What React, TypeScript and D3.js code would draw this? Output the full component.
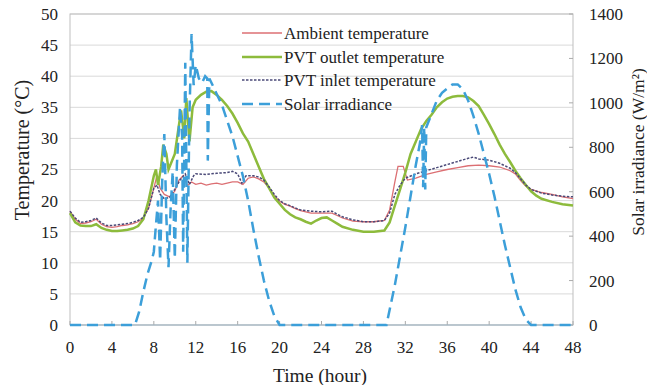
import React from "react";
import * as d3 from "d3";

const ambientTime = [0,0.5,1,1.5,2,2.5,3,3.5,4,4.5,5,5.5,6,6.5,7,7.5,8,8.3,8.6,9,9.5,10,10.4,10.8,11.2,11.6,12,12.5,13,13.5,14,14.5,15,15.5,16,16.5,17,17.5,18,18.5,19,19.5,20,20.5,21,21.5,22,22.5,23,24,25,25.5,26,27,28,29,30,30.5,31,31.3,31.8,32.2,33,34,35,36,37,38,39,40,41,42,42.5,43,43.5,44,45,46,47,48];
const ambientTemp = [18.3,17.0,16.3,16.4,16.6,17.0,16.2,15.8,15.7,15.8,16.0,16.1,16.3,16.6,17.2,18.8,22.0,24.0,22.0,21.0,20.6,21.5,23.3,24.0,22.4,23.0,22.6,22.8,22.5,22.7,22.8,22.6,22.8,23.0,23.0,22.6,23.6,23.8,23.5,23.0,22.0,20.8,19.9,19.4,19.1,18.7,18.4,18.2,18.0,18.0,18.0,17.6,17.2,16.7,16.6,16.6,16.8,18.5,23.0,25.5,25.5,23.3,23.6,24.2,24.6,25.0,25.3,25.6,25.7,25.6,25.4,24.8,24.3,23.2,22.3,21.8,21.3,21.0,20.6,20.3];

const outletTime = [0,0.5,1,1.5,2,2.5,3,3.5,4,4.5,5,5.5,6,6.5,7,7.5,8,8.2,8.4,8.7,8.9,9.2,9.4,10,10.3,10.6,10.9,11.1,11.4,11.7,12,12.5,13,13.5,14,14.5,15,15.5,16,16.5,17,17.5,18,18.5,19,19.5,20,20.5,21,21.5,22,22.5,23,23.5,24,24.5,25,25.5,26,27,28,29,30,30.5,31,31.5,32,32.5,33,33.5,34,34.5,35,35.5,36,36.5,37,37.5,38,38.5,39,39.5,40,40.5,41,41.5,42,42.5,43,43.5,44,44.5,45,46,47,48];
const outletTemp = [18.0,16.5,16.0,15.9,15.9,16.2,15.6,15.3,15.1,15.1,15.2,15.3,15.5,15.9,17.0,20.0,24.0,25.0,22.5,25.5,29.0,27.5,25.0,27.5,31.0,34.5,30.0,36.5,29.5,35.0,36.2,37.0,37.5,37.6,37.0,36.2,35.2,34.0,32.5,30.8,29.5,27.5,25.5,23.5,22.0,20.5,19.5,18.5,17.8,17.3,17.0,16.6,16.3,16.8,17.2,17.3,16.8,16.3,15.8,15.3,15.0,15.0,15.2,16.5,19.2,21.8,24.5,27.5,29.5,31.5,32.8,33.8,35.0,35.8,36.4,36.7,36.8,36.8,36.6,36.0,35.2,33.8,32.3,30.7,29.0,27.5,26.2,24.8,23.6,22.5,21.5,20.8,20.3,19.8,19.4,19.2];

const inletTime = [0,0.5,1,1.5,2,2.5,3,3.5,4,4.5,5,5.5,6,6.5,7,7.5,8,8.3,8.6,9,9.5,10,10.5,11,11.4,11.8,12,13,14,15,15.5,16,16.4,16.8,17.5,18,18.5,19,19.5,20,20.5,21,21.5,22,23,24,25,25.5,26,27,28,29,30,30.5,31,31.5,32,33,34,35,36,37,38,38.5,39,40,41,42,42.5,43,43.5,44,45,46,47,48];
const inletTemp = [18.3,17.2,16.5,16.6,16.8,17.2,16.4,16.0,16.0,16.1,16.2,16.3,16.5,16.8,17.3,18.8,22.0,22.5,21.0,20.3,20.5,21.8,23.3,24.3,22.6,24.0,24.3,24.2,24.4,24.5,24.7,24.3,22.8,24.0,24.0,23.8,23.3,22.2,21.0,20.0,19.5,19.2,18.8,18.5,18.3,18.2,18.3,17.8,17.4,16.9,16.6,16.6,16.8,18.0,21.0,22.5,23.6,24.3,24.8,25.3,25.8,26.3,26.8,27.0,26.7,26.5,26.0,25.2,24.5,23.5,22.5,21.8,21.2,20.9,20.7,20.6];

const solarTime = [0,6.2,6.6,7,7.4,7.8,8.0,8.2,8.4,8.6,8.8,9.0,9.2,9.4,9.6,9.8,10.0,10.2,10.5,10.7,10.8,11.0,11.2,11.4,11.6,11.8,12.0,12.3,12.6,12.9,13.1,13.15,13.3,13.6,14,14.5,15,15.5,16,16.5,17,17.5,18,18.5,19,19.5,20,30.2,31,32,33,33.4,33.6,33.7,33.8,33.9,34.0,34.5,35,35.5,36,36.5,37,37.5,38,38.5,39,39.5,40,40.5,41,41.5,42,42.5,43,43.5,44,48];
const solarValue = [0,0,60,150,230,290,330,450,560,290,650,860,480,260,520,690,300,720,980,850,330,1180,280,950,1310,1080,1170,1110,1090,1120,1110,740,1110,1080,1040,990,920,850,760,670,560,430,310,200,110,40,0,0,180,440,720,820,900,620,890,610,890,950,1010,1045,1065,1083,1083,1060,1010,940,860,770,680,580,470,360,260,160,80,25,0,0];

const xTicks = [0,4,8,12,16,20,24,28,32,36,40,44,48];
const tempTicks = [0,5,10,15,20,25,30,35,40,45,50];
const solarTicks = [0,200,400,600,800,1000,1200,1400];

const legendLabels = ["Ambient temperature","PVT outlet temperature","PVT inlet temperature","Solar irradiance"];

const COL_AMB = "#dc6f73";
const COL_OUT = "#8dbb3c";
const COL_IN = "#4b4a78";
const COL_SOL = "#3c9fd9";
const FONT = "'Liberation Serif', 'Times New Roman', serif";

export default function App() {
  const W = 647, H = 385;
  const L = 70, R = 573, T = 14, B = 325;
  const x = d3.scaleLinear().domain([0, 48]).range([L, R]);
  const yT = d3.scaleLinear().domain([0, 50]).range([B, T]);
  const yS = d3.scaleLinear().domain([0, 1400]).range([B, T]);

  const mk = (ts: number[], vs: number[], ys: d3.ScaleLinear<number, number>) =>
    d3.line<number>().x((_, i) => x(ts[i])).y((v) => ys(v))(vs) || "";

  const ambPath = mk(ambientTime, ambientTemp, yT);
  const outPath = mk(outletTime, outletTemp, yT);
  const inPath = mk(inletTime, inletTemp, yT);
  const solPath = mk(solarTime, solarValue, yS);

  const legendY = [33, 57, 80, 104];
  const legendStyles = [
    { stroke: COL_AMB, width: 1.3, dash: "" },
    { stroke: COL_OUT, width: 2.5, dash: "" },
    { stroke: COL_IN, width: 1.5, dash: "2.5 1.5" },
    { stroke: COL_SOL, width: 2.5, dash: "11 6" },
  ];

  return (
    <svg width={W} height={H} style={{ position: "absolute", left: 0, top: 0, background: "#fff" }}>
      <rect x={0} y={0} width={W} height={H} fill="#fff" />
      {tempTicks.map((t) => (
        <line key={"g" + t} x1={L} x2={R} y1={yT(t)} y2={yT(t)} stroke="#d9d9d9" strokeWidth={1} />
      ))}
      <rect x={L} y={T} width={R - L} height={B - T} fill="none" stroke="#bfbfbf" strokeWidth={1} />
      {xTicks.map((t) => (
        <line key={"xt" + t} x1={x(t)} x2={x(t)} y1={B} y2={B - 4} stroke="#aaa" />
      ))}
      {solarTicks.map((t) => (
        <line key={"st" + t} x1={R} x2={R - 4} y1={yS(t)} y2={yS(t)} stroke="#aaa" />
      ))}
      <line x1={L} x2={R} y1={B} y2={B} stroke="#9fb8c8" strokeWidth={1.2} />

      <path d={ambPath} fill="none" stroke={COL_AMB} strokeWidth={1.3} />
      <path d={outPath} fill="none" stroke={COL_OUT} strokeWidth={2.5} />
      <path d={inPath} fill="none" stroke={COL_IN} strokeWidth={1.5} strokeDasharray="2.5 1.5" />
      <path d={solPath} fill="none" stroke={COL_SOL} strokeWidth={2.5} strokeDasharray="11 6" />

      {tempTicks.map((t) => (
        <text key={"tl" + t} x={58} y={yT(t)} dy="0.35em" textAnchor="end" fontFamily={FONT} fontSize={17} fill="#222">{t}</text>
      ))}
      {solarTicks.map((t) => (
        <text key={"sl" + t} x={589} y={yS(t)} dy="0.35em" textAnchor="start" fontFamily={FONT} fontSize={17} fill="#222">{t}</text>
      ))}
      {xTicks.map((t) => (
        <text key={"xl" + t} x={x(t)} y={347} dy="0.35em" textAnchor="middle" fontFamily={FONT} fontSize={17} fill="#222">{t}</text>
      ))}
      <text x={320} y={375} dy="0.35em" textAnchor="middle" fontFamily={FONT} fontSize={19.5} fill="#222">Time (hour)</text>
      <text transform="translate(22,150) rotate(-90)" dy="0.35em" textAnchor="middle" fontFamily={FONT} fontSize={20} fill="#222">Temperature (°C)</text>
      <text transform="translate(638,152) rotate(-90)" dy="0.35em" textAnchor="middle" fontFamily={FONT} fontSize={17.5} fill="#222">Solar irradiance (W/m²)</text>

      {legendLabels.map((lab, i) => (
        <g key={lab}>
          <line x1={242} x2={282} y1={legendY[i]} y2={legendY[i]} stroke={legendStyles[i].stroke} strokeWidth={legendStyles[i].width} strokeDasharray={legendStyles[i].dash} />
          <text x={284} y={legendY[i]} dy="0.35em" fontFamily={FONT} fontSize={17} fill="#222">{lab}</text>
        </g>
      ))}
    </svg>
  );
}
